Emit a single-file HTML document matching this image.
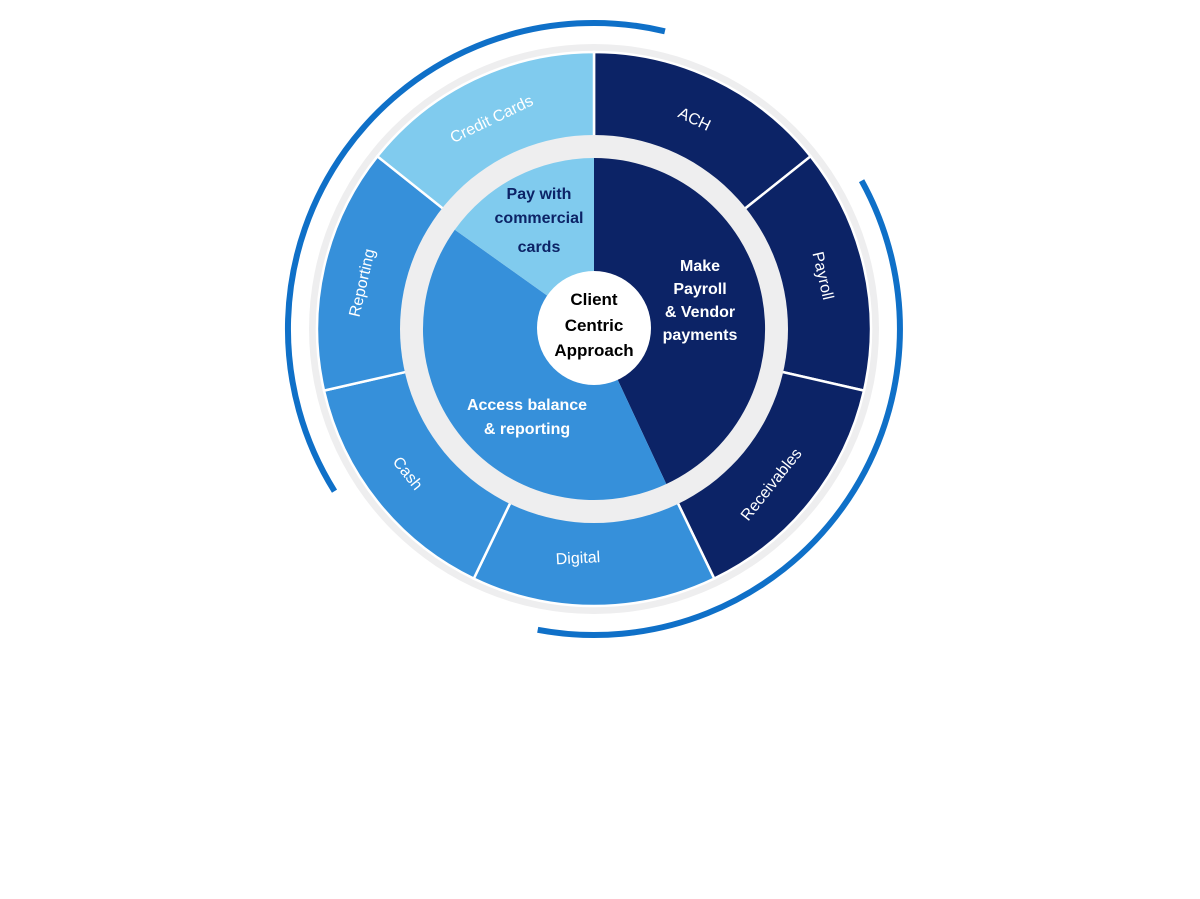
<!DOCTYPE html>
<html><head><meta charset="utf-8"><style>
html,body{margin:0;padding:0;background:#fff;}
svg{display:block;}
.o{font-family:"Liberation Sans",sans-serif;font-size:16px;fill:#fff;text-anchor:middle;dominant-baseline:middle;}
.b{font-family:"Liberation Sans",sans-serif;font-size:16px;font-weight:bold;text-anchor:middle;}
</style></head><body>
<svg width="1200" height="899" viewBox="0 0 1200 899">
<circle cx="594" cy="329" r="285" fill="#eeeeef"/>
<g stroke="#fff" stroke-width="2.5">
<path d="M594,329 L594,52 A277,277 0 0 1 810.6,156.3 Z" fill="#0c2366"/>
<path d="M594,329 L810.6,156.3 A277,277 0 0 1 864,390.6 Z" fill="#0c2366"/>
<path d="M594,329 L864,390.6 A277,277 0 0 1 714.2,578.6 Z" fill="#0c2366"/>
<path d="M594,329 L714.2,578.6 A277,277 0 0 1 473.8,578.6 Z" fill="#3690da"/>
<path d="M594,329 L473.8,578.6 A277,277 0 0 1 324,390.6 Z" fill="#3690da"/>
<path d="M594,329 L324,390.6 A277,277 0 0 1 377.4,156.3 Z" fill="#3690da"/>
<path d="M594,329 L377.4,156.3 A277,277 0 0 1 594,52 Z" fill="#80cbee"/>
</g>
<circle cx="594" cy="329" r="194" fill="#eeeeef"/>
<path d="M594,329 L594,158 A171,171 0 0 1 666.3,484 Z" fill="#0c2366"/>
<path d="M594,329 L666.3,484 A171,171 0 0 1 454.8,229.7 Z" fill="#3690da"/>
<path d="M594,329 L454.8,229.7 A171,171 0 0 1 594,158 Z" fill="#80cbee"/>
<circle cx="594" cy="328" r="57" fill="#fff"/>
<path d="M334.5,491.2 A306,306 0 0 1 664.9,31.3" fill="none" stroke="#0f70c8" stroke-width="6"/>
<path d="M861.6,180.7 A306,306 0 0 1 537.7,629.8" fill="none" stroke="#0f70c8" stroke-width="6"/>

<text class="o" transform="translate(492,120) rotate(-25.7)">Credit Cards</text>
<text class="o" transform="translate(694,120) rotate(25.7)">ACH</text>
<text class="o" transform="translate(822,276) rotate(77)">Payroll</text>
<text class="o" transform="translate(772,485) rotate(-51.4)">Receivables</text>
<text class="o" transform="translate(578,559) rotate(-3)">Digital</text>
<text class="o" transform="translate(407,474) rotate(51.4)">Cash</text>
<text class="o" transform="translate(363,283) rotate(-77)">Reporting</text>

<g class="b" fill="#0c2366">
<text x="539" y="199">Pay with</text>
<text x="539" y="223">commercial</text>
<text x="539" y="252">cards</text>
</g>
<g class="b" fill="#fff">
<text x="700" y="271">Make</text>
<text x="700" y="294">Payroll</text>
<text x="700" y="317">&amp; Vendor</text>
<text x="700" y="340">payments</text>
<text x="527" y="410">Access balance</text>
<text x="527" y="434">&amp; reporting</text>
</g>
<g class="b" fill="#000" style="font-size:17px">
<text x="594" y="305">Client</text>
<text x="594" y="331">Centric</text>
<text x="594" y="356">Approach</text>
</g>
</svg>
</body></html>
